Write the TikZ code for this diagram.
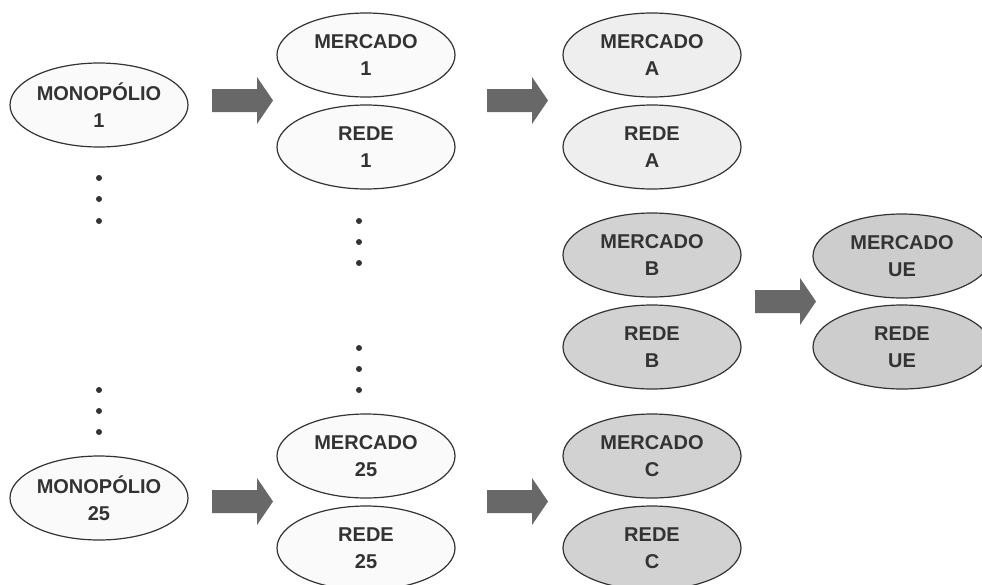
\documentclass[tikz,border=0pt]{standalone}
\usepackage{fontspec}
\setmainfont{Liberation Sans}
\usetikzlibrary{shapes.geometric}
\definecolor{inkgray}{HTML}{333333}
\definecolor{arrowgray}{HTML}{686868}
\definecolor{fillwhite}{HTML}{FAFAFA}
\definecolor{filllight}{HTML}{EEEEEE}
\definecolor{fillmid}{HTML}{D2D2D2}
\definecolor{fillue}{HTML}{CDCDCD}
\tikzset{
  oval/.style={ellipse, draw=inkgray, line width=1.2pt, minimum width=178pt,
    minimum height=84pt, inner sep=0pt},
  ovallabel/.style={align=center, text=inkgray,
    font=\bfseries\fontsize{20}{27}\selectfont, inner sep=0pt},
  dotmark/.style={fill=inkgray, draw=none},
  blockarrow/.pic={
    \fill[arrowgray] (0,-11.5) -- (45,-11.5) -- (45,-23.5) -- (61,0)
      -- (45,23.5) -- (45,11.5) -- (0,11.5) -- cycle;
  }
}
\newcommand{\stagebox}[4]{%
  \node[oval, fill=#2] (#1) at (#3) {};
  \node[ovallabel] (#1-text) at (#1.center) {#4};}
\begin{document}
\begin{tikzpicture}[x=1pt, y=-1pt]
  \fill[white] (0,0) rectangle (982,584);
  \useasboundingbox (0,0) rectangle (982,584);

  % first column: monopolies
  \stagebox{mono1}{fillwhite}{99,105}{MONOPÓLIO\\1}
  \stagebox{mono25}{fillwhite}{99,498}{MONOPÓLIO\\25}

  % second column: national markets and networks
  \stagebox{merc1}{fillwhite}{366,55}{MERCADO\\1}
  \stagebox{rede1}{fillwhite}{366,147}{REDE\\1}
  \stagebox{merc25}{fillwhite}{366,456}{MERCADO\\25}
  \stagebox{rede25}{fillwhite}{366,548}{REDE\\25}

  % third column: regional markets and networks
  \stagebox{mercA}{filllight}{652,55}{MERCADO\\A}
  \stagebox{redeA}{filllight}{652,147}{REDE\\A}
  \stagebox{mercB}{fillmid}{652,255}{MERCADO\\B}
  \stagebox{redeB}{fillmid}{652,347}{REDE\\B}
  \stagebox{mercC}{fillmid}{652,456}{MERCADO\\C}
  \stagebox{redeC}{fillmid}{652,548}{REDE\\C}

  % fourth column: single European market and network
  \stagebox{mercUE}{fillue}{902,256}{MERCADO\\UE}
  \stagebox{redeUE}{fillue}{902,347}{REDE\\UE}

  % block arrows between the stages
  \coordinate (a1) at (212,100.5);
  \coordinate (a2) at (487,100.5);
  \coordinate (a3) at (212,501.5);
  \coordinate (a4) at (487,501.5);
  \coordinate (a5) at (755,301.5);
  \foreach \a in {a1,a2,a3,a4,a5} { \pic at (\a) {blockarrow}; }

  % ellipsis dots
  \foreach \y in {178,199,221,390,411,432} { \fill[dotmark] (99,\y) circle (3); }
  \foreach \y in {221,242,263,348,369,390} { \fill[dotmark] (359,\y) circle (3); }
\end{tikzpicture}
\end{document}
